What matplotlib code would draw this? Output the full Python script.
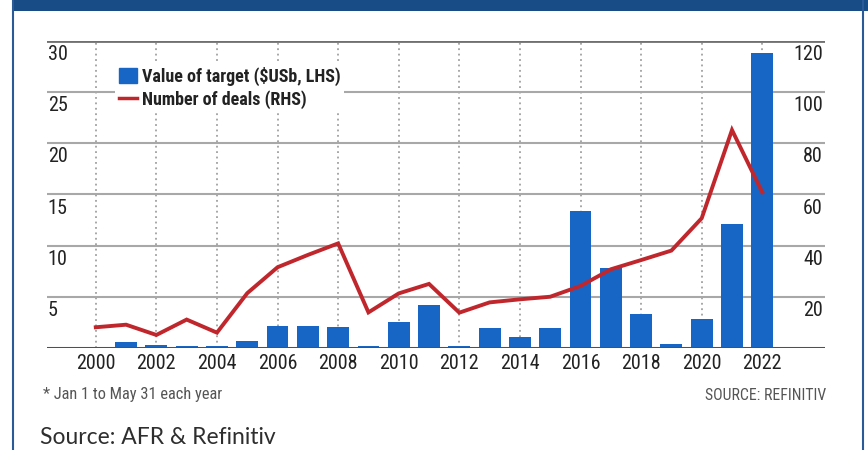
import matplotlib
matplotlib.use("Agg")
import matplotlib.pyplot as plt
import matplotlib.transforms as mtransforms
from matplotlib import font_manager as fm
from matplotlib.patches import Rectangle
from matplotlib.lines import Line2D

# ---- data ----
years = list(range(2000, 2023))
value_usb = [0.0, 0.6, 0.3, 0.25, 0.2, 0.75, 2.2, 2.15, 2.05, 0.2, 2.6, 4.2,
             0.25, 2.0, 1.1, 1.95, 13.4, 7.8, 3.3, 0.4, 2.85, 12.1, 28.8]
num_deals = [8.2, 9.2, 5.2, 11.2, 6.1, 21.5, 31.6, 36.4, 40.9, 14.0, 21.4, 25.1,
             13.9, 17.9, 19.1, 20.1, 24.3, 30.8, 34.4, 38.1, 50.7, 85.1, 60.8]
xtick_years = list(range(2000, 2023, 2))
left_ticks = [5, 10, 15, 20, 25, 30]
right_ticks = [20, 40, 60, 80, 100, 120]
legend_labels = ["Value of target ($USb, LHS)", "Number of deals (RHS)"]
footnote = "* Jan 1 to May 31 each year"
source_small = "SOURCE: REFINITIV"
source_big = "Source: AFR & Refinitiv"

# pick a condensed face if one is installed
cond_entries = [f for f in fm.fontManager.ttflist
                if str(f.stretch) in ("condensed", "semi-condensed", "extra-condensed")
                or (isinstance(f.stretch, int) and f.stretch < 500)]
names = sorted({f.name for f in cond_entries})
fam = "DejaVu Sans"
stretch = "normal"
for pref in ["Liberation Sans Narrow", "Roboto Condensed", "Open Sans Condensed", "DejaVu Sans"]:
    if pref in names:
        fam = pref
        stretch = "condensed"
        break
has_cond = stretch == "condensed"


def fp(size, weight="normal"):
    return fm.FontProperties(family=fam, stretch=stretch, size=size, weight=weight)


scale = 1.0 if has_cond else 0.88

BAR = "#1766c6"
RED = "#c0272d"
GRID = "#a8a8a8"

fig = plt.figure(figsize=(8.68, 4.5), dpi=100)
fig.patch.set_facecolor("white")

# header band and side borders
fig.add_artist(Rectangle((12 / 868, 1 - 11 / 450), 1, 11 / 450, transform=fig.transFigure,
                         color="#174c86", lw=0))
fig.add_artist(Line2D([12.5 / 868, 12.5 / 868], [0, 1], transform=fig.transFigure,
                      color="#2a5a98", lw=1.5))
fig.add_artist(Line2D([862.5 / 868, 862.5 / 868], [0, 1], transform=fig.transFigure,
                      color="#2a5a98", lw=1.5))

ax = fig.add_axes([47 / 868, 1 - 348.3 / 450, (825 - 47) / 868, (348.3 - 40.5) / 450])
ax2 = ax.twinx()
ax.set_xlim(1998.39, 2024.07)
ax.set_ylim(0, 30)
ax2.set_ylim(0, 120)
for a in (ax, ax2):
    for s in a.spines.values():
        s.set_visible(False)
    a.set_yticks([])
    a.patch.set_visible(False)

# vertical dotted grid
for y in xtick_years:
    ax.axvline(y, color="#a0a0a0", lw=1.3, ls=(0, (1, 2)), zorder=0)
# horizontal grid
for v in left_ticks[:-1]:
    ax.axhline(v, color=GRID, lw=1.5, zorder=0.5)
ax.axhline(30, color="#707070", lw=2.0, zorder=0.5)
ax.axhline(0, color="#505050", lw=2.2, zorder=3)

ax.bar(years, value_usb, width=0.72, color=BAR, zorder=2)
ax2.plot(years, num_deals, color=RED, lw=2.8, zorder=4, solid_joinstyle="miter")

ax.set_xticks(xtick_years)
ax.set_xticklabels([str(y) for y in xtick_years])
for t in ax.get_xticklabels():
    t.set_fontproperties(fp(14.5 * scale))
    t.set_color("#222222")
ax.tick_params(axis="x", length=0, pad=4)

tl = mtransforms.blended_transform_factory(ax.transAxes, ax.transData)
for v in left_ticks:
    ax.annotate(str(v), xy=(0, v), xycoords=tl, xytext=(0.5, -3.0), textcoords="offset points",
                ha="left", va="top", color="#222222", fontproperties=fp(14.5 * scale))
tr = mtransforms.blended_transform_factory(ax2.transAxes, ax2.transData)
for v in right_ticks:
    ax2.annotate(str(v), xy=(1, v), xycoords=tr, xytext=(-1.5, -3.0), textcoords="offset points",
                 ha="right", va="top", color="#222222", fontproperties=fp(14.5 * scale))

handles = [Rectangle((0, 0), 1, 1, color=BAR), Line2D([0], [0], color=RED, lw=2.5)]
leg = ax2.legend(handles, legend_labels, loc="upper left", bbox_to_anchor=(0.088, 0.925),
                 frameon=True, facecolor="white", edgecolor="none", framealpha=1,
                 fancybox=False, handlelength=1.0, handleheight=0.9, handletextpad=0.25,
                 labelspacing=0.2, borderpad=0.2, borderaxespad=0,
                 prop=fp(13 if has_cond else 10.2, "bold"))
for t in leg.get_texts():
    t.set_color("#222222")
leg.set_zorder(5)

fig.text(43 / 868, 1 - 395 / 450, footnote, color="#555555", va="center",
         ha="left", fontproperties=fp(11.8 * scale))
fig.text(826 / 868, 1 - 396 / 450, source_small, color="#555555", va="center",
         ha="right", fontproperties=fp(11.3 * scale))
fig.text(40 / 868, 1 - 438 / 450, source_big, fontsize=16.5, color="#2e2e2e", va="center",
         ha="left", family=["Lato", "DejaVu Sans"])

fig.savefig("out.png", dpi=100, facecolor="white")
